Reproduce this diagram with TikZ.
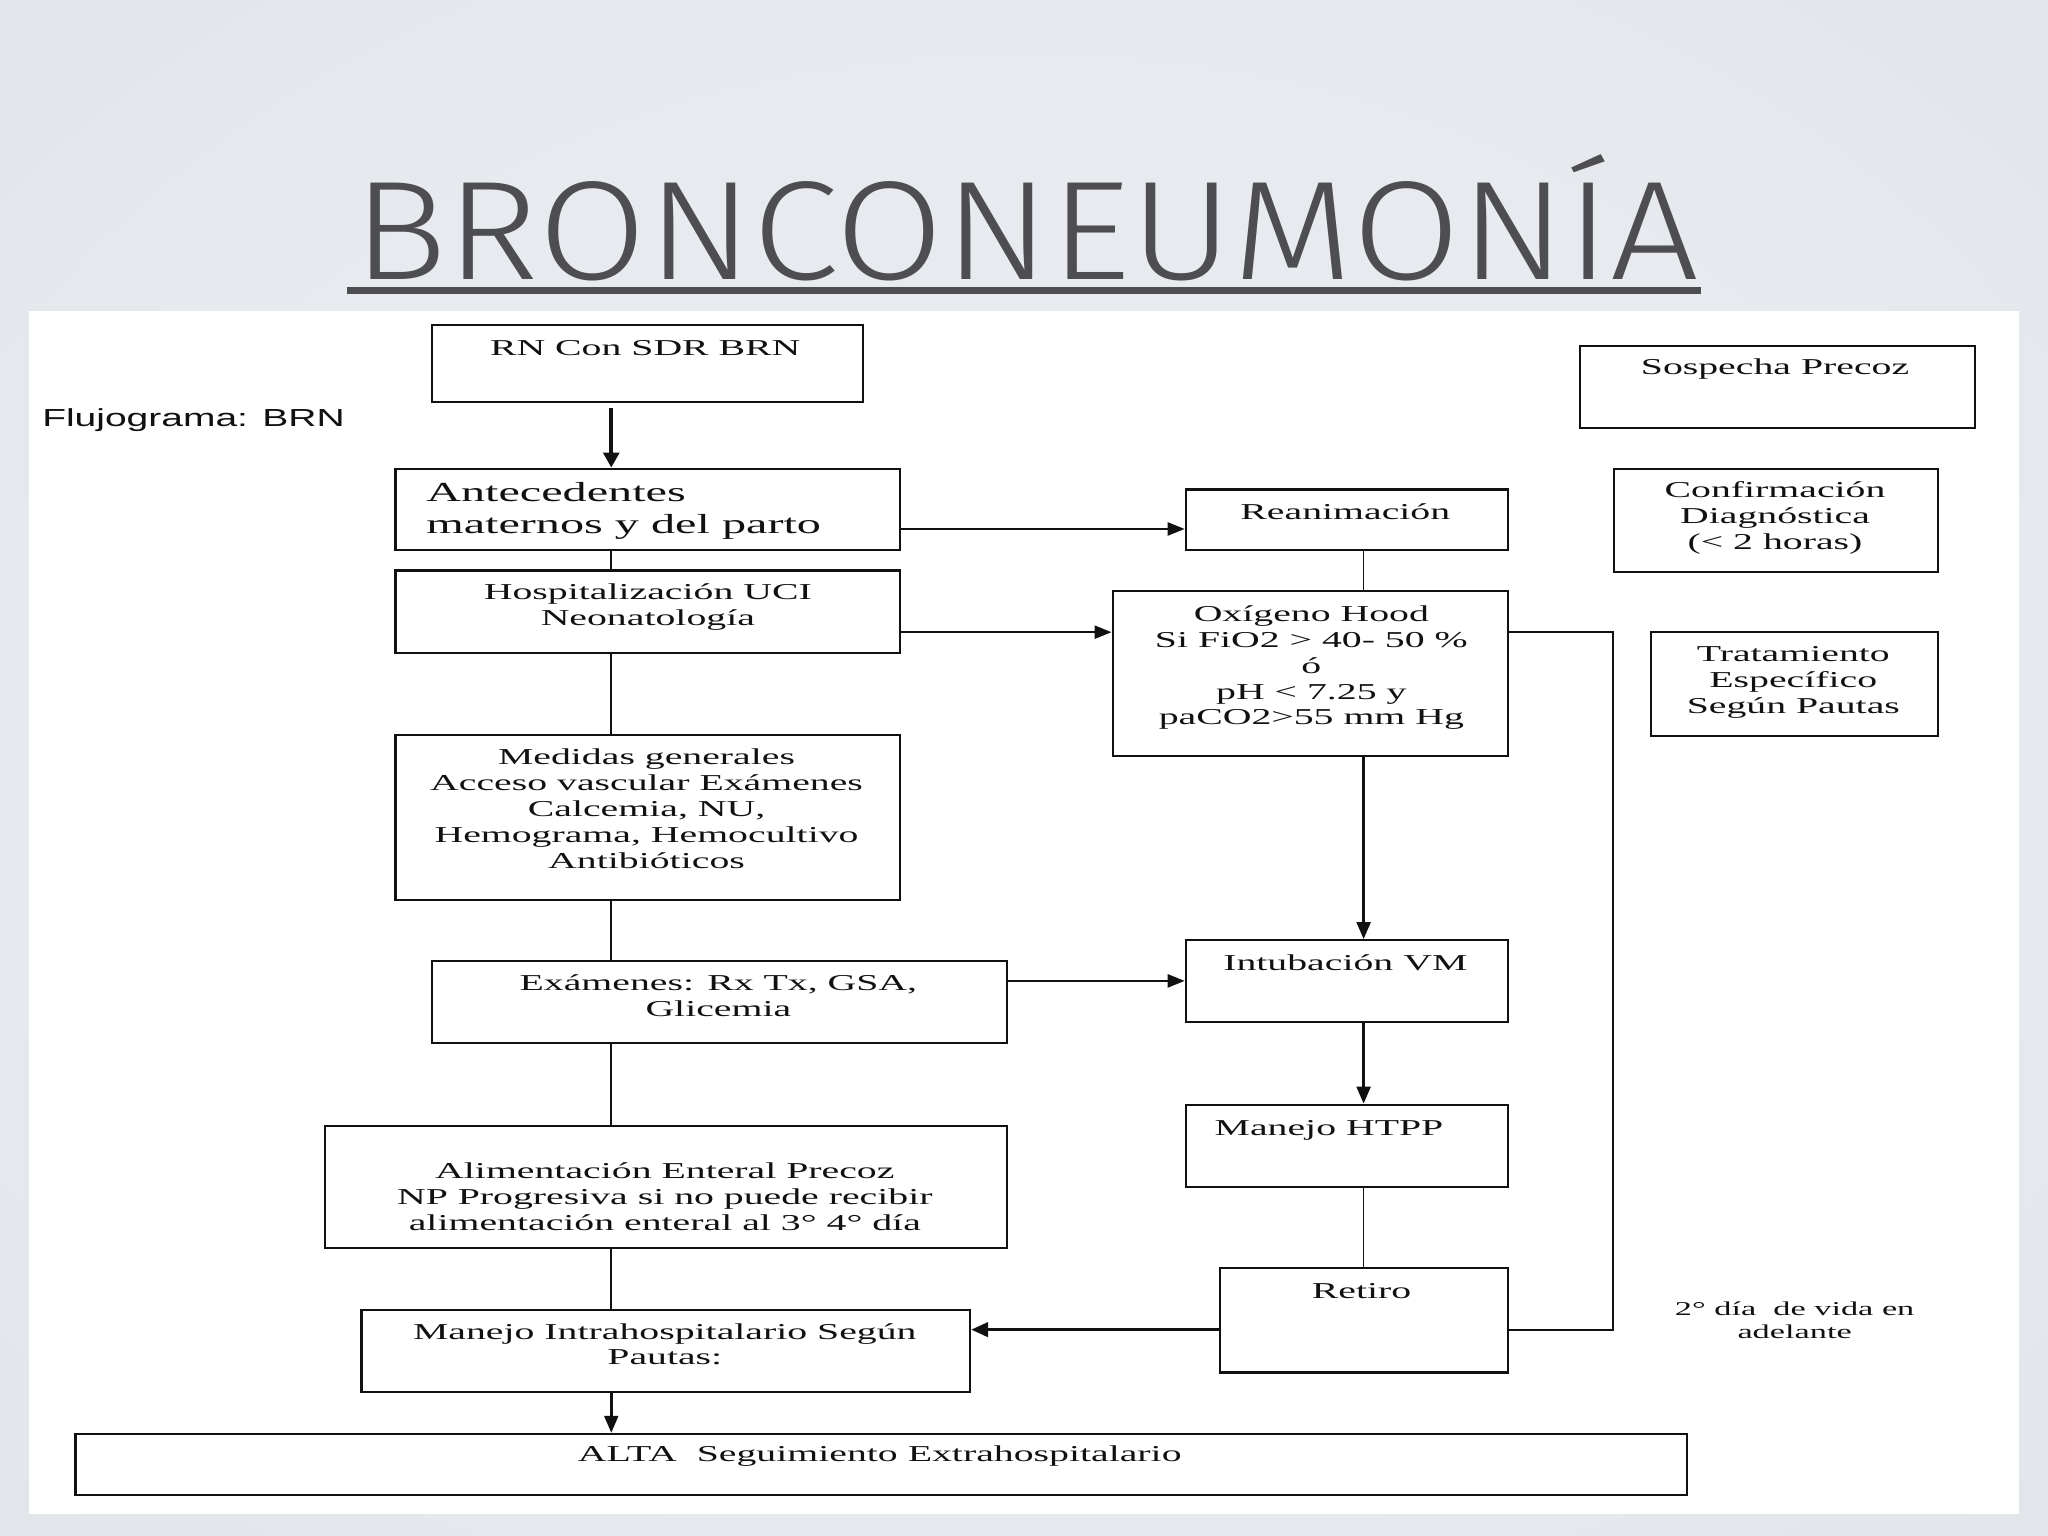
\documentclass[tikz,border=0pt]{standalone}
\usepackage{fontspec}
\usepackage{graphicx}
\usetikzlibrary{arrows.meta}
\newfontfamily\fc{Liberation Serif}[FakeStretch=1.75]
\newfontfamily\fsans{Liberation Sans}[FakeStretch=1.58]
\IfFontExistsTF{FiraSans-Light.otf}{\newfontfamily\titlefont{FiraSans-Light.otf}}{%
 \IfFontExistsTF{Fira Sans Light}{\newfontfamily\titlefont{Fira Sans Light}}{%
  \IfFontExistsTF{Lato Light}{\newfontfamily\titlefont{Lato Light}}{%
   \IfFontExistsTF{Open Sans Light}{\newfontfamily\titlefont{Open Sans Light}}{%
    \IfFontExistsTF{DejaVu Sans ExtraLight}{\newfontfamily\titlefont{DejaVu Sans ExtraLight}}{%
     \newfontfamily\titlefont{DejaVu Sans}}}}}}
\definecolor{bgin}{RGB}{231,234,238}
\definecolor{bgmid}{RGB}{224,227,231}
\definecolor{bgout}{RGB}{211,215,220}
\definecolor{tgray}{RGB}{78,78,80}
\definecolor{ink}{RGB}{17,17,17}
\pgfdeclareradialshading{vign}{\pgfpoint{0bp}{0bp}}{color(0bp)=(bgin); color(22bp)=(bgin); color(40bp)=(bgmid); color(50bp)=(bgout)}
\tikzset{
  sz/.style 2 args={minimum width=#1*0.02cm, minimum height=#2*0.02cm},
  box/.style={draw=ink, line width=0.9pt, anchor=north west, inner sep=0pt, fill=white},
  tx/.style={anchor=base, align=center, inner sep=0pt, text=ink, font=\fc\fontsize{9.9pt}{11.27pt}\selectfont},
  ln/.style={draw=ink, line width=0.75pt},
  arr/.style={draw=ink, line width=0.95pt, -{Triangle[length=7.4pt,width=5.7pt]}},
  varr/.style={draw=ink, line width=1.2pt, -{Triangle[length=7.4pt,width=6pt]}},
  thickarr/.style={draw=ink, line width=1.9pt, -{Triangle[length=6.5pt,width=6.8pt]}},
  medarr/.style={draw=ink, line width=1.4pt, -{Triangle[length=7.4pt,width=6.3pt]}},
}
\begin{document}
\begin{tikzpicture}[x=0.02cm, y=-0.02cm]
\useasboundingbox (0,0) rectangle (1568,1176);
\shade[shading=vign] (0,0) rectangle (1568,1176);
% title
\node[anchor=base west, inner sep=0pt, text=tgray] (title) at (270,214)
  {\resizebox{20.6cm}{1.5cm}{\titlefont BRONCONEUMON\smash{Í}A}};
\draw[tgray, line width=2.85pt] (266,222.5) -- (1302,222.5);
% white panel
\fill[white] (22,238) rectangle (1546,1159);
% label
\node[anchor=base west, inner sep=0pt, text=ink, font=\fsans\fontsize{10.75pt}{12.4pt}\selectfont] (flu) at (32,326.7) {Flujograma: BRN};
% boxes
\node[box, sz={330}{59}] (rn) at (330,248) {};
\node[box, sz={386}{62}] (ant) at (302,358) {};
\node[box, sz={386}{63}] (hosp) at (302,436) {};
\node[box, sz={386}{126}] (med) at (302,562) {};
\node[box, sz={440}{63}] (exa) at (330,735) {};
\node[box, sz={522}{94}] (ali) at (248,861) {};
\node[box, sz={466}{63}] (man) at (276,1002) {};
\node[box, sz={1234}{47}] (alta) at (57,1097) {};
\node[box, sz={247}{46}] (rea) at (907,374) {};
\node[box, sz={303}{126}] (oxi) at (851,452) {};
\node[box, sz={247}{63}] (intu) at (907,719) {};
\node[box, sz={247}{63}] (htpp) at (907,845) {};
\node[box, sz={221}{80}] (ret) at (933,970) {};
\node[box, sz={302}{63}] (sos) at (1209,264) {};
\node[box, sz={248}{79}] (conf) at (1235,358) {};
\node[box, sz={220}{80}] (trat) at (1263,483) {};
% texts (multi-line nodes: base = last line)
\node[tx] (trn) at (494,272) {RN Con SDR BRN};
\node[anchor=base west, align=left, inner sep=0pt, text=ink, font=\fc\fontsize{12pt}{13.8pt}\selectfont] (tant) at (326,408.3) {Antecedentes\\maternos y del parto};
\node[tx] (thosp) at (496,479) {Hospitalización UCI\\Neonatología};
\node[tx] (tmed) at (495,664.8) {Medidas generales\\Acceso vascular Exámenes\\Calcemia, NU,\\Hemograma, Hemocultivo\\Antibióticos};
\node[tx] (texa) at (550,778) {Exámenes: Rx Tx, GSA,\\Glicemia};
\node[tx] (tali) at (509,942.2) {Alimentación Enteral Precoz\\NP Progresiva si no puede recibir\\alimentación enteral al 3° 4° día};
\node[tx] (tman) at (509,1045) {Manejo Intrahospitalario Según\\Pautas:};
\node[tx] (talta) at (673.5,1119) {ALTA\ \ Seguimiento Extrahospitalario};
\node[tx] (trea) at (1030,398) {Reanimación};
\node[tx] (toxi) at (1004,555) {Oxígeno Hood\\Si FiO2 > 40- 50 \%\\ó\\pH < 7.25 y\\paCO2>55 mm Hg};
\node[tx] (tintu) at (1030,743) {Intubación VM};
\node[tx] (thtpp) at (1017.5,869) {Manejo HTPP};
\node[tx] (tret) at (1042.5,994) {Retiro};
\node[tx] (tsos) at (1359,287) {Sospecha Precoz};
\node[tx] (tconf) at (1359,420.5) {Confirmación\\Diagnóstica\\(< 2 horas)};
\node[tx] (ttrat) at (1373,546) {Tratamiento\\Específico\\Según Pautas};
\node[tx, font=\fc\fontsize{8.54pt}{10.1pt}\selectfont] (tdia) at (1374,1024.6) {2° día\ \ de vida en\\adelante};
% helper coordinates
\coordinate (xa) at (468,0);
\coordinate (xb) at (1044,0);
\coordinate (xr) at (1235,0);
\coordinate (ya) at (0,405);
\coordinate (yh) at (0,484);
\coordinate (ye) at (0,751);
\coordinate (ym) at (0,1018);
% left column
\draw[thickarr, shorten <=4*0.02cm] (rn.south -| xa) -- (ant.north -| xa);
\draw[ln] (ant.south -| xa) -- (hosp.north -| xa);
\draw[ln] (hosp.south -| xa) -- (med.north -| xa);
\draw[ln] (med.south -| xa) -- (exa.north -| xa);
\draw[ln] (exa.south -| xa) -- (ali.north -| xa);
\draw[ln] (ali.south -| xa) -- (man.north -| xa);
\draw[varr] (man.south -| xa) -- (alta.north -| xa);
% horizontal arrows
\draw[arr] (ant.east |- ya) -- (rea.west |- ya);
\draw[arr] (hosp.east |- yh) -- (oxi.west |- yh);
\draw[arr] (exa.east |- ye) -- (intu.west |- ye);
\draw[medarr] (ret.west |- ym) -- (man.east |- ym);
% right column
\draw[ln] (rea.south -| xb) -- (oxi.north -| xb);
\draw[varr] (oxi.south -| xb) -- (intu.north -| xb);
\draw[varr] (intu.south -| xb) -- (htpp.north -| xb);
\draw[ln] (htpp.south -| xb) -- (ret.north -| xb);
\draw[ln] (oxi.east |- yh) -| (xr |- ym) -- (ret.east |- ym);
\end{tikzpicture}
\end{document}
